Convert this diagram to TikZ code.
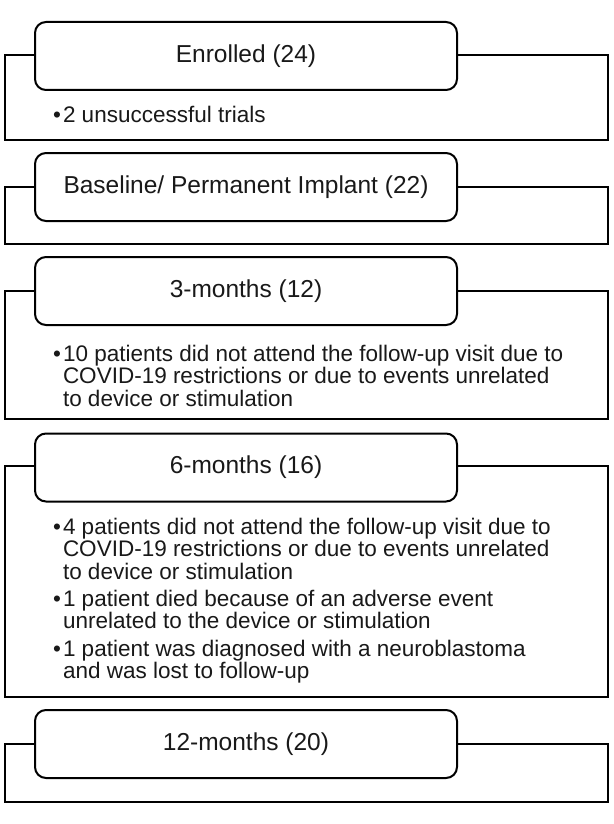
\documentclass[tikz,border=0pt]{standalone}
\usepackage{fontspec}
\setmainfont{Liberation Sans}
\begin{document}
\begin{tikzpicture}[x=1pt,y=-1pt,line width=2pt,
  outer/.style={draw=black,fill=white},
  head/.style={draw=black,fill=white,rounded corners=11pt,minimum width=422pt,minimum height=68pt,inner sep=0pt,
    font=\fontsize{24.5}{28}\selectfont,text=black!90},
  bul/.style={font=\fontsize{22.5}{22}\selectfont,text=black!90,anchor=base west,inner sep=0pt},
  dot/.style={font=\fontsize{22.5}{22}\selectfont,text=black!90,anchor=base west,inner sep=0pt}]
\useasboundingbox (0,0) rectangle (613,824);
% box 1
\draw[outer] (5,55) rectangle (608,140);
\node[head] (t1) at (246,56) {Enrolled (24)};
\node[dot] (d1) at (52,123) {•};
\node[bul] (b1) at (62,123) {2 unsuccessful trials};
% box 2
\draw[outer] (5,187) rectangle (608,244);
\node[head] (t2) at (246,187) {Baseline/ Permanent Implant (22)};
% box 3
\draw[outer] (5,291) rectangle (608,419);
\node[head] (t3) at (246,291) {3-months (12)};
\node[dot] (d3) at (52,361) {•};
\node[bul] (b3) at (62,361) {\begin{tabular}[t]{@{}l@{}}10 patients did not attend the follow-up visit due to\\COVID-19 restrictions or due to events unrelated\\to device or stimulation\end{tabular}};
% box 4
\draw[outer] (5,466) rectangle (608,697);
\node[head] (t4) at (246,467.5) {6-months (16)};
\node[dot] (d4a) at (52,534) {•};
\node[bul] (b4a) at (62,534) {\begin{tabular}[t]{@{}l@{}}4 patients did not attend the follow-up visit due to\\COVID-19 restrictions or due to events unrelated\\to device or stimulation\end{tabular}};
\node[dot] (d4b) at (52,606) {•};
\node[bul] (b4b) at (62,606) {\begin{tabular}[t]{@{}l@{}}1 patient died because of an adverse event\\unrelated to the device or stimulation\end{tabular}};
\node[dot] (d4c) at (52,656) {•};
\node[bul] (b4c) at (62,656) {\begin{tabular}[t]{@{}l@{}}1 patient was diagnosed with a neuroblastoma\\and was lost to follow-up\end{tabular}};
% box 5
\draw[outer] (5,744) rectangle (608,802);
\node[head] (t5) at (246,744) {12-months (20)};
\end{tikzpicture}
\end{document}
